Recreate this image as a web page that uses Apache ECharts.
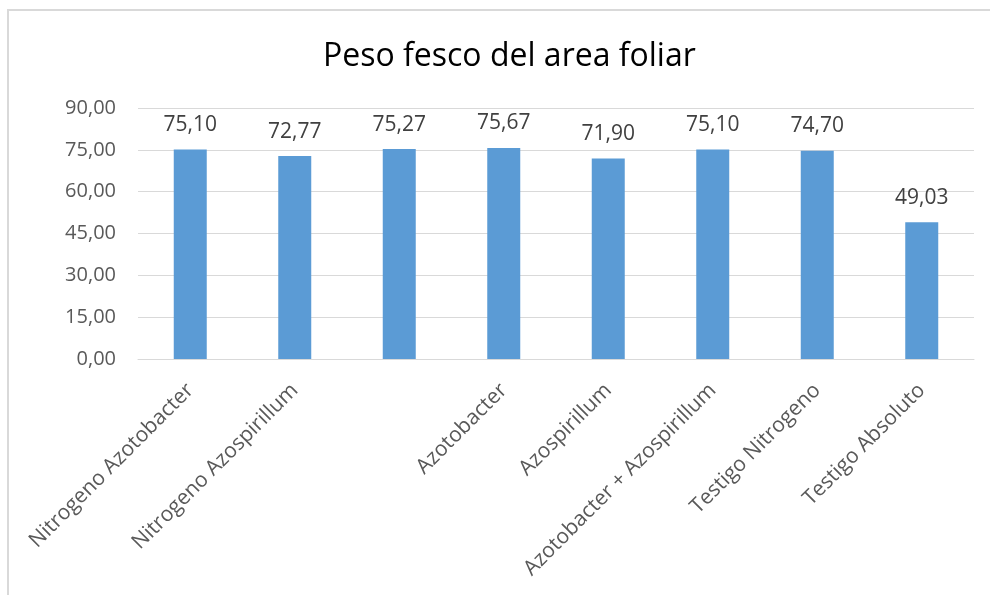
<!DOCTYPE html>
<html><head><meta charset="utf-8">
<script src="https://cdn.jsdelivr.net/npm/echarts@6/dist/echarts.min.js"></script>
<style>html,body{margin:0;padding:0;background:#fff}#c{width:990px;height:595px}</style>
</head><body><div id="c"></div>
<script>
const categories = ['Nitrogeno Azotobacter','Nitrogeno Azospirillum',' ','Azotobacter','Azospirillum','Azotobacter + Azospirillum','Testigo Nitrogeno','Testigo Absoluto'];
const values = [75.10, 72.77, 75.27, 75.67, 71.90, 75.10, 74.70, 49.03];
const yTicks = [0, 15, 30, 45, 60, 75, 90];
const fmt = v => v.toFixed(2).replace('.', ',');
const chart = echarts.init(document.getElementById('c'));
chart.setOption({
  animation: false,
  graphic: [{type:'polyline', shape:{points:[[8,595],[8,10],[990,10]]}, style:{stroke:'#d9d9d9', lineWidth:2, fill:null}}],
  title: {text:'Peso fesco del area foliar', left:318, top:36, textStyle:{fontFamily:'Open Sans', fontWeight:'normal', fontSize:32, color:'#000'}},
  grid: {left:138, right:16, top:108, bottom:236, containLabel:false},
  xAxis: {type:'category', data:categories,
    axisLine:{lineStyle:{color:'#d9d9d9'}}, axisTick:{show:false},
    axisLabel:{rotate:45, interval:0, margin:28, color:'#595959', fontFamily:'Open Sans', fontSize:21}},
  yAxis: {type:'value', min:yTicks[0], max:yTicks[yTicks.length-1], interval:15,
    axisLabel:{formatter:fmt, color:'#595959', fontFamily:'Open Sans', fontSize:20, margin:22},
    splitLine:{lineStyle:{color:'#d9d9d9'}}, axisLine:{show:false}, axisTick:{show:false}},
  series: [{type:'bar', data:values, barWidth:33, itemStyle:{color:'#5b9bd5'},
    label:{show:true, position:'top', distance:14, formatter:p=>fmt(p.value), color:'#404040', fontFamily:'Open Sans', fontSize:21}}]
});
</script></body></html>
